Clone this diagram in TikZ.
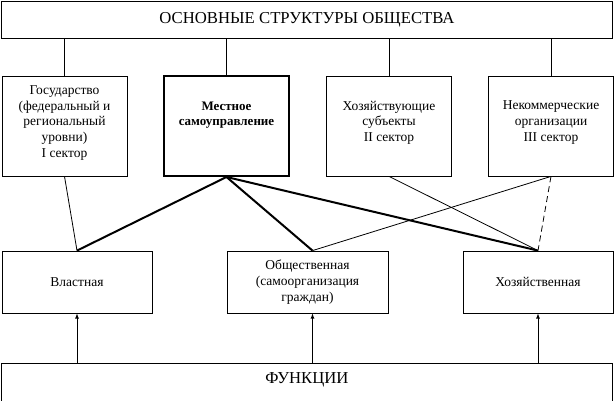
\documentclass[tikz,border=0pt]{standalone}
\usepackage{fontspec}
\setmainfont{Liberation Serif}
\usetikzlibrary{positioning}
\newcommand{\toptext}[2]{\parbox[c][#1][t]{122pt}{\centering #2}}

\begin{document}
\begin{tikzpicture}[
    x=1pt, y=-1pt,
    every node/.style={draw, inner sep=0pt, align=center, line width=0.8pt,
      font=\fontsize{13.5}{15.7}\selectfont},
    head/.style={font=\fontsize{16.7}{19}\selectfont, minimum width=611pt},
    sector/.style={minimum width=125pt, minimum height=100pt},
    func/.style={minimum width=150pt, minimum height=62pt},
    link/.style={draw, line width=0.8pt},
    mainlink/.style={draw, line width=2pt},
    arrow/.style={draw, -latex, line width=0.8pt}
  ]
  \useasboundingbox (0,0) rectangle (614,401);
  % structures
  \node[head, minimum height=37pt] (osn) at (307,19.5) {ОСНОВНЫЕ СТРУКТУРЫ ОБЩЕСТВА};
  \node[sector] (gos) at (64.5,126)
    {\toptext{81pt}{Государство\\(федеральный и\\региональный\\уровни)\\I сектор}};
  \node[sector, line width=2pt] (mest) at (226.5,126)
    {\toptext{49pt}{\fontsize{13}{15.7}\selectfont\textbf{Местное}\\\textbf{самоуправление}}};
  \node[sector] (subj) at (389,126)
    {\toptext{50pt}{Хозяйствующие\\субъекты\\II сектор}};
  \node[sector] (nko) at (551,126)
    {\toptext{50pt}{Некоммерческие\\организации\\III сектор}};
  % functions
  \node[func] (vlast) at (77,282) {Властная};
  \node[func, minimum width=161pt] (obsh) at (307.5,282) {Общественная\\(самоорганизация\\граждан)};
  \node[func] (hoz) at (538,282) {Хозяйственная};
  \node[head, anchor=north, text height=20pt, text depth=40pt] (fun) at (307,363) {ФУНКЦИИ};

  \foreach \s in {gos,mest,subj,nko}
    \draw[link] (\s.north |- osn.south) -- (\s.north);

  \draw[link] (gos.south) -- (vlast.north);
  \draw[mainlink] (mest.south) -- (vlast.north);
  \draw[mainlink] (mest.south) -- ([xshift=5pt]obsh.north);
  \draw[mainlink] (mest.south) -- (hoz.north);
  \draw[link] (subj.south) -- (hoz.north);
  \draw[link] (nko.south) -- ([xshift=5pt]obsh.north);
  \draw[link, dash pattern=on 6pt off 4pt] (nko.south) -- (hoz.north);

  \draw[arrow] (vlast.south |- fun.north) -- (vlast.south);
  \draw[arrow] ([xshift=5pt]obsh.south |- fun.north) -- ([xshift=5pt]obsh.south);
  \draw[arrow] (hoz.south |- fun.north) -- (hoz.south);
\end{tikzpicture}
\end{document}
